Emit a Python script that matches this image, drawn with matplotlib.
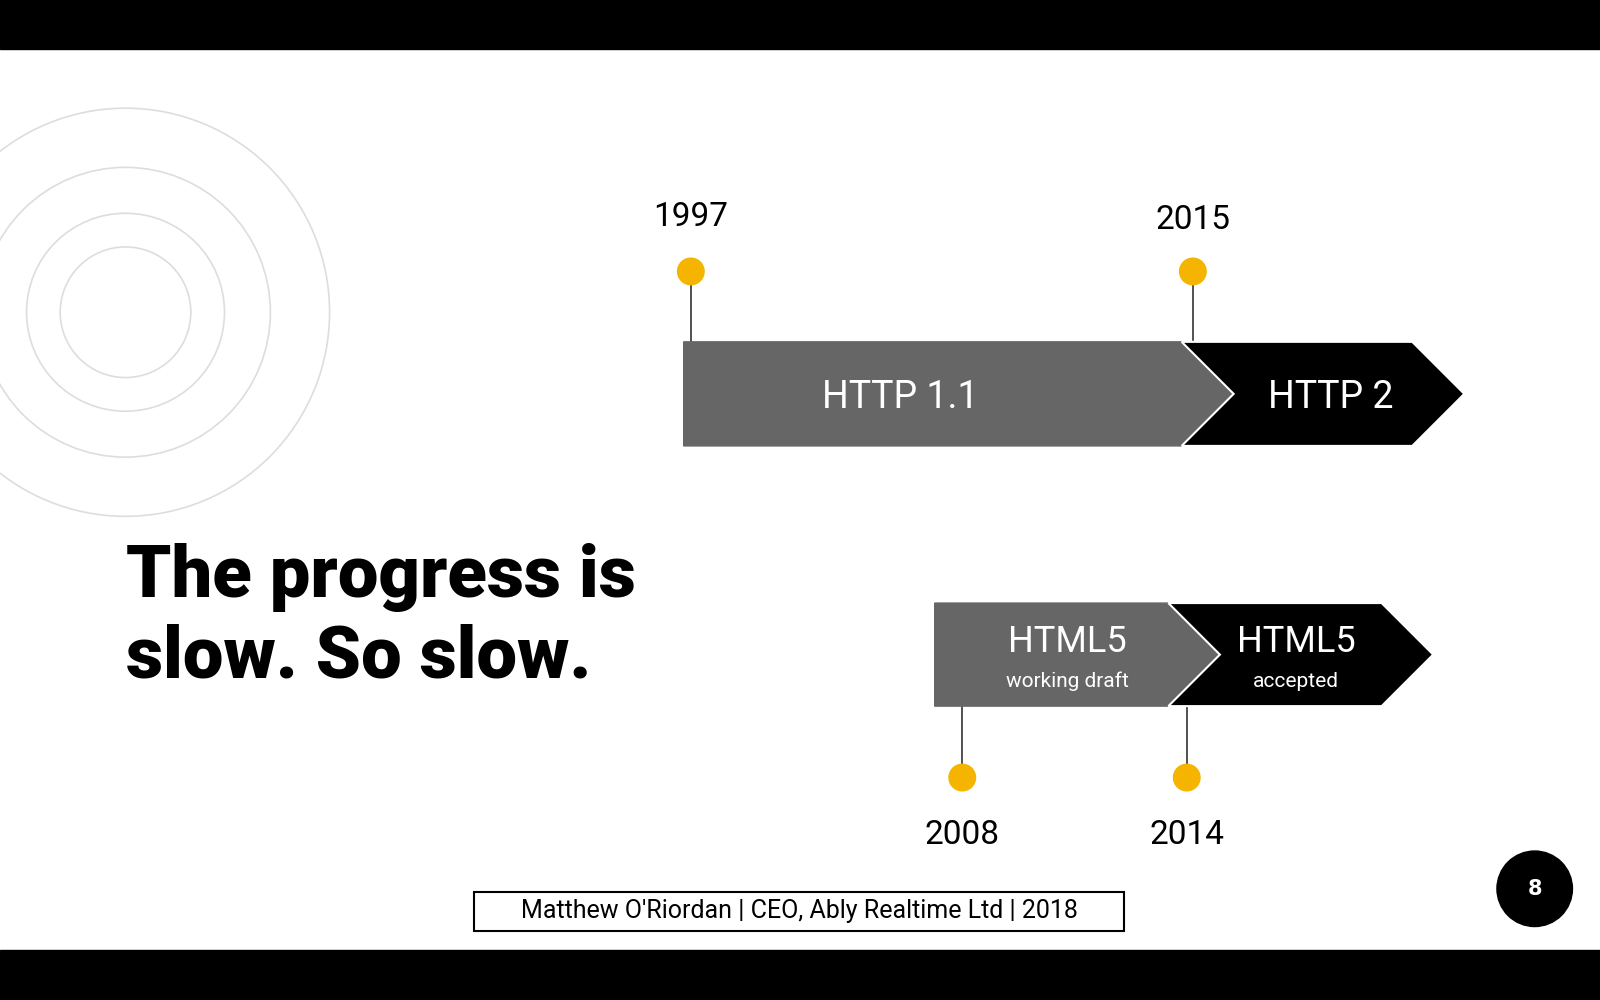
import numpy as np
import matplotlib
matplotlib.use("Agg")
import matplotlib.pyplot as plt
from matplotlib.patches import Polygon, Circle, Rectangle

# data
top_years = ["1997", "2015"]
top_labels = ["HTTP 1.1", "HTTP 2"]
bot_years = ["2008", "2014"]
bot_labels = [("HTML5", "working draft"), ("HTML5", "accepted")]
title_lines = ["The progress is", "slow. So slow."]
footer = "Matthew O'Riordan | CEO, Ably Realtime Ltd | 2018"
page = "8"

W, H = 1568, 980
GREY = "#666666"; GOLD = "#f5b400"
fig = plt.figure(figsize=(16, 10), dpi=100)
ax = fig.add_axes([0, 0, 1, 1])
ax.set_xlim(0, W); ax.set_ylim(H, 0); ax.axis("off")

ax.add_patch(Rectangle((0, 0), W, 48, color="black"))
ax.add_patch(Rectangle((0, 931), W, 49, color="black"))
for r in [64, 97, 142, 200]:
    ax.add_patch(Circle((123, 306), r, fill=False, ec="#dddddd", lw=1.2))

def arrows(y0, y1, xs, centers, labels, subs):
    ym = (y0 + y1) / 2; tip = (y1 - y0) / 2
    x0, xm, xe = xs
    ax.add_patch(Polygon([(x0, y0), (xm, y0), (xm + tip, ym), (xm, y1), (x0, y1)], color=GREY, zorder=2))
    ax.add_patch(Polygon([(xm, y0), (xe, y0), (xe + tip, ym), (xe, y1), (xm, y1), (xm + tip, ym)],
                         color="black", ec="white", lw=1.5, zorder=3))
    for c, lab, sub in zip(centers, labels, subs):
        if sub:
            ax.text(c, ym - 12, lab, color="white", fontsize=26, ha="center", va="center", family="Roboto")
            ax.text(c, ym + 26, sub, color="white", fontsize=15, ha="center", va="center", family="Roboto")
        else:
            ax.text(c, ym + 4, lab, color="white", fontsize=27, ha="center", va="center", family="Roboto")

arrows(335, 437, (670, 1158, 1384), (882, 1304), top_labels, [None, None])
arrows(591, 692, (916, 1145, 1354), (1046, 1270), [l[0] for l in bot_labels], [l[1] for l in bot_labels])

for x, yr, ytxt in zip([677, 1169], top_years, [213, 216]):
    ax.plot([x, x], [266, 335], color="#333333", lw=1.2, zorder=1)
    ax.add_patch(Circle((x, 266), 13, color=GOLD, zorder=4))
    ax.text(x, ytxt, yr, fontsize=24, ha="center", va="center", family="Roboto")
for x, yr in zip([943, 1163], bot_years):
    ax.plot([x, x], [692, 762], color="#333333", lw=1.2, zorder=1)
    ax.add_patch(Circle((x, 762), 13, color=GOLD, zorder=4))
    ax.text(x, 818, yr, fontsize=24, ha="center", va="center", family="Roboto")

for line, y in zip(title_lines, [566, 645]):
    ax.text(123, y, line, fontsize=52, fontweight="black", ha="left", va="center", family="Roboto")
ax.add_patch(Rectangle((465, 874), 637, 38, fill=False, ec="black", lw=1.5))
ax.text(783, 893, footer, fontsize=18, ha="center", va="center", family="Roboto")
ax.add_patch(Circle((1504, 871), 37, color="black"))
ax.text(1504, 871, page, color="white", fontsize=15, fontweight="bold", ha="center", va="center")

fig.savefig("out.png")
